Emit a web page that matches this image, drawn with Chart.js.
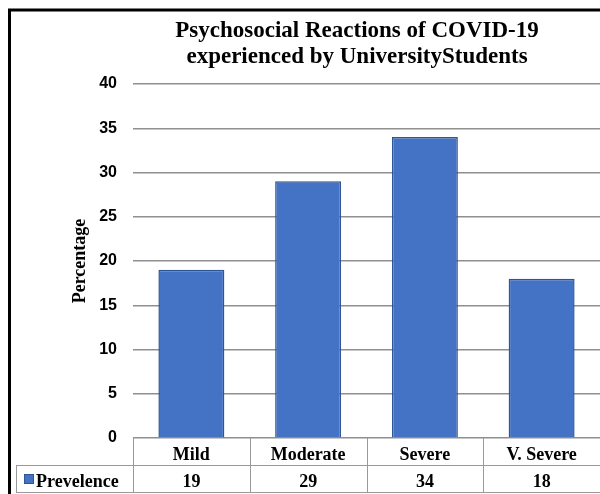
<!DOCTYPE html>
<html>
<head>
<meta charset="utf-8">
<script src="https://cdn.jsdelivr.net/npm/chart.js@4"></script>
<style>
  html, body { margin: 0; padding: 0; background: #fff; }
  #wrap { width: 600px; height: 494px; position: relative; }
</style>
</head>
<body>
<div id="wrap"><canvas id="chart"></canvas></div>
<script>
// Data

const titleLines = ['Psychosocial Reactions of COVID-19', 'experienced by UniversityStudents'];
const categories = ['Mild', 'Moderate', 'Severe', 'V. Severe'];
const prevalence = [19, 29, 34, 18];
const seriesName = 'Prevelence';
const yAxisTitle = 'Percentage';
const yMin = 0, yMax = 40, yStep = 5;

const BLUE   = '#4472C4';
const BLUE_D = '#2F5597';
const GRID   = '#8f8f8f';
const CELL   = '#9a9a9a';
const SERIF  = "'Liberation Serif', 'Times New Roman', serif";
const SANS   = "'Liberation Sans Narrow', 'Liberation Sans', Arial, sans-serif";

// Title, data table and frame drawn on the canvas around the plot area

const extras = {
  id: 'extras',
  afterDraw(chart) {
    const { ctx, chartArea: ca, scales: { x } } = chart;
    const catW = (ca.right - ca.left) / categories.length;
    const rowMid = ca.bottom + 27.5;
    const rowBot = ca.bottom + 54.5;

    ctx.save();

    // title
    ctx.fillStyle = '#000';
    ctx.font = `bold 23px ${SERIF}`;
    ctx.textAlign = 'center';
    ctx.textBaseline = 'alphabetic';
    ctx.fillText(titleLines[0], 357, 37);
    ctx.fillText(titleLines[1], 357, 63);

    // table lines
    ctx.strokeStyle = CELL;
    ctx.lineWidth = 1;
    ctx.beginPath();
    for (let i = 0; i <= categories.length; i++) {
      const bx = Math.round(ca.left + i * catW) + 0.5;
      ctx.moveTo(bx, ca.bottom);
      ctx.lineTo(bx, rowBot);
    }
    ctx.moveTo(16.5, rowMid);
    ctx.lineTo(16.5, rowBot);
    ctx.moveTo(16, rowMid);
    ctx.lineTo(ca.right, rowMid);
    ctx.moveTo(16, rowBot);
    ctx.lineTo(ca.right, rowBot);
    ctx.stroke();

    // table text
    ctx.fillStyle = '#000';
    ctx.font = `bold 18px ${SERIF}`;
    categories.forEach((c, i) => {
      const cx = x.getPixelForValue(i);
      ctx.fillText(c, cx, ca.bottom + 22);
      ctx.fillText(String(prevalence[i]), cx, ca.bottom + 49);
    });

    // legend key + series name
    ctx.fillStyle = BLUE;
    ctx.fillRect(24, rowMid + 8.5, 10, 10);
    ctx.strokeStyle = BLUE_D;
    ctx.strokeRect(24.5, rowMid + 9, 9, 9);
    ctx.fillStyle = '#000';
    ctx.textAlign = 'left';
    ctx.fillText(seriesName, 36, ca.bottom + 49);

    // outer frame (left and top only, the rest is cropped)
    ctx.strokeStyle = '#000';
    ctx.lineWidth = 3;
    ctx.beginPath();
    ctx.moveTo(9.5, 494);
    ctx.lineTo(9.5, 10);
    ctx.lineTo(600, 10);
    ctx.stroke();

    ctx.restore();
  }
};

new Chart(document.getElementById('chart'), {
  type: 'bar',
  data: {
    labels: categories,
    datasets: [{
      label: seriesName,
      data: prevalence,
      backgroundColor: BLUE,
      borderColor: BLUE_D,
      borderWidth: 1.5,
      categoryPercentage: 1,
      barPercentage: 0.565
    }]
  },
  options: {
    responsive: true,
    maintainAspectRatio: false,
    animation: false,
    devicePixelRatio: 1,
    layout: { padding: { top: 84, bottom: 56, left: 0, right: 0 } },
    plugins: {
      legend: { display: false },
      title: { display: false },
      tooltip: { enabled: false }
    },
    scales: {
      x: {
        display: false,
        offset: true
      },
      y: {
        min: yMin,
        max: yMax,
        border: { display: false },
        grid: { color: GRID, lineWidth: 1.5, drawTicks: false },
        ticks: {
          stepSize: yStep,
          padding: 16,
          color: '#000',
          font: { family: SANS, size: 16, weight: 'bold' }
        },
        title: {
          display: true,
          text: yAxisTitle,
          color: '#000',
          font: { family: SERIF, size: 18, weight: 'bold' },
          padding: { top: 70, bottom: 0 }
        },
        afterFit(scale) { scale.width = 133; }
      }
    }
  },
  plugins: [extras]
});
</script>
</body>
</html>
